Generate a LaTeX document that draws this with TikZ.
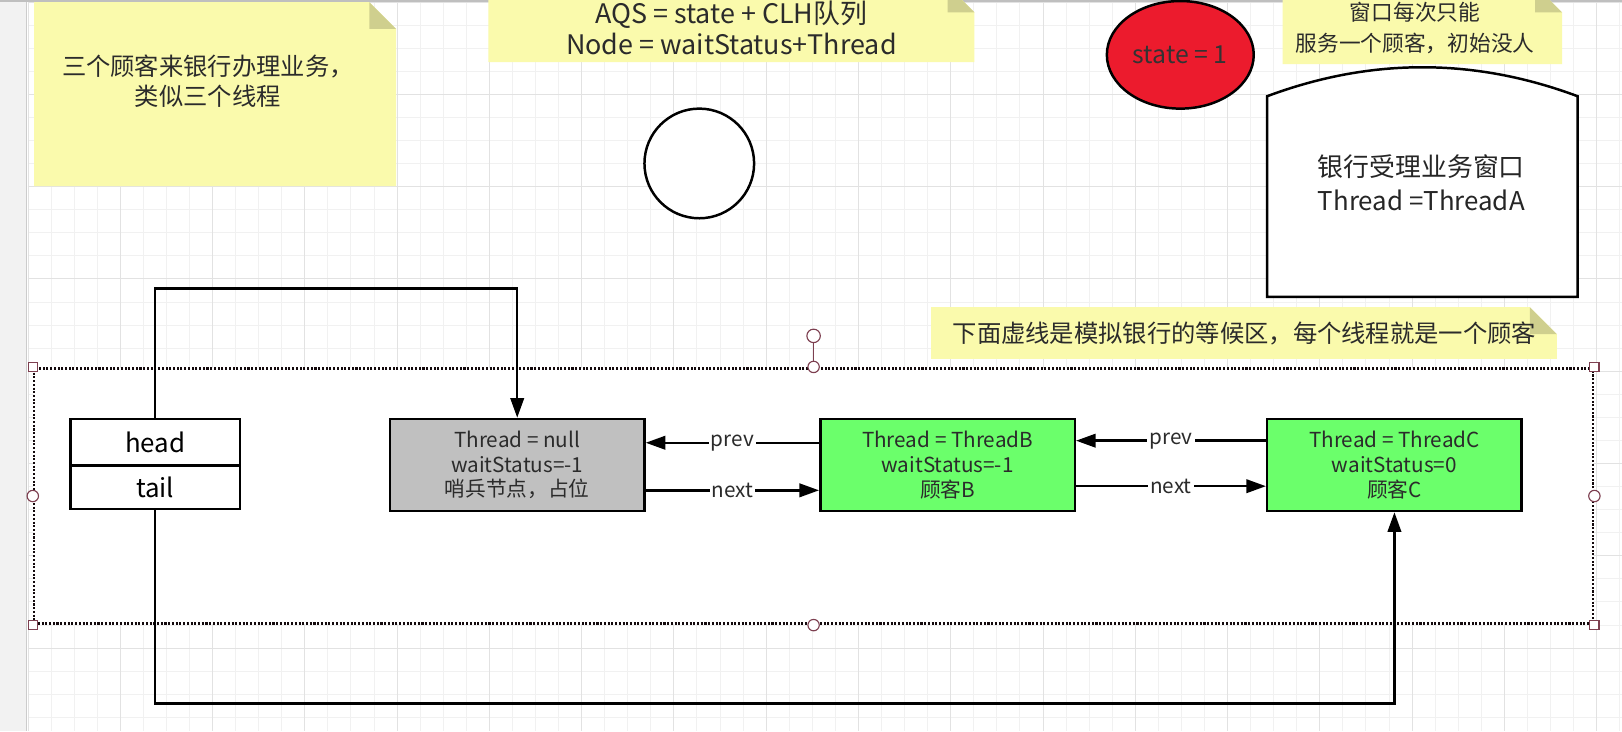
\documentclass[tikz,border=0pt]{standalone}
\usepackage{fontspec}
\setmainfont{Noto Sans CJK SC}
\usepackage{tikz}
\usetikzlibrary{arrows.meta, positioning, calc, shapes.geometric}
\definecolor{notey}{HTML}{FAFAAC}
\definecolor{notefold}{HTML}{CFCF8E}
\definecolor{gridl}{HTML}{F1F1F1}
\definecolor{gridd}{HTML}{E2E2E2}
\definecolor{nodegray}{HTML}{C0C0C0}
\definecolor{nodegreen}{HTML}{6BFF6B}
\definecolor{statered}{HTML}{EC1B2D}
\definecolor{hdl}{HTML}{7D3F50}
\definecolor{txt}{HTML}{2B2B2B}
\newcommand{\memo}[4]{%
  \fill[notey] (#1,#2) -- ({#3-26},#2) -- (#3,{#2+26}) -- (#3,#4) -- (#1,#4) -- cycle;
  \fill[notefold] ({#3-26},#2) -- ({#3-26},{#2+26}) -- (#3,{#2+26}) -- cycle;}

\begin{document}
\begin{tikzpicture}[x=1pt, y=-1pt, >=Stealth, line width=2.4pt,
      gridmin/.style={draw=gridl, line width=0.8pt},
      gridmaj/.style={draw=gridd, line width=0.8pt},
      memotxt/.style={align=center, text=txt, inner sep=0pt},
      zone/.style={draw=black!85!hdl, fill=white, dash pattern=on 2pt off 1.6pt,
                   line width=2.6pt, minimum width=1507, minimum height=247, inner sep=0pt},
      hsq/.style={draw=hdl, fill=white, line width=1.1pt},
      qnode/.style={draw=black, minimum width=246, minimum height=89, align=center,
                    font=\fontsize{20}{24}\selectfont, text=txt},
      ptr/.style={draw=black, fill=white, outer sep=0pt, minimum width=164,
                  font=\fontsize{25}{30}\selectfont},
      link/.style={-{Triangle[length=19pt,width=13pt]}, line width=2.4pt},
      lbl/.style={fill=white, inner sep=2pt, font=\fontsize{20}{24}\selectfont, text=txt}]
    \useasboundingbox (0,0) rectangle (1568,707);
    \clip (0,0) rectangle (1568,707);
    \fill[white] (0,0) rectangle (1568,707);
    \fill[black!5] (0,0) rectangle (26,707);
    \draw[black!20, line width=1pt] (26,0) -- (26,707);
    \foreach \i in {0,...,69}
      \draw[gridmin] ({27+22.3*\i},2) -- ({27+22.3*\i},707);
    \foreach \j in {0,...,31}
      \draw[gridmin] (27,{2+22.3*\j}) -- (1568,{2+22.3*\j});
    \foreach \i in {0,...,17}
      \draw[gridmaj] ({27+89.2*\i},2) -- ({27+89.2*\i},707);
    \foreach \j in {0,...,7}
      \draw[gridmaj] (27,{2+89.2*\j}) -- (1568,{2+89.2*\j});
    \draw[black!25, line width=1.5pt] (0,1) -- (1568,1);

    \memo{33}{2}{383}{180}
    \memo{472}{-14}{942}{60}
    \memo{1240}{-14}{1510}{62}
    \memo{900}{297}{1505}{347}
    \node[memotxt, font=\fontsize{23.5}{29}\selectfont] (memo1) at (201,78)
      {三个顾客来银行办理业务，\\类似三个线程};
    \node[memotxt, font=\fontsize{26}{30}\selectfont] (memo2) at (707,27)
      {AQS = state + CLH队列\\Node = waitStatus+Thread};
    \node[memotxt, font=\fontsize{21}{30}\selectfont] (memo3) at (1368,27)
      {窗口每次只能\\服务一个顾客，初始没人};
    \node[memotxt, font=\fontsize{23.5}{28}\selectfont] (memo4) at (1203,322)
      {下面虚线是模拟银行的等候区，每个线程就是一个顾客};

    \node[circle, draw=black, fill=white, minimum size=106] (emptyc) at (676,158) {};
    \node[ellipse, draw=black, fill=statered, minimum width=142, minimum height=104,
          font=\fontsize{24}{28}\selectfont, text=black!80] (state) at (1141,53) {state = 1};
    \draw[fill=white] (1225,287) -- (1225,93) .. controls (1325,55.7) and (1425,55.7) ..
      (1525,93) -- (1525,287) -- cycle;
    \node[memotxt, text=black!85, font=\fontsize{25}{33}\selectfont] (window) at (1374,177)
      {银行受理业务窗口\\Thread =ThreadA};

    \node[zone] (waitzone) at (786.5,479.5) {};
    \coordinate (rot) at ([yshift=30pt]waitzone.north);
    \draw[hdl, line width=1.1pt] (waitzone.north) -- (rot);
    \foreach \a in {north west, north east, south west, south east}
      \draw[hsq] (waitzone.\a) ++(-4.5,-4.5) rectangle ++(9,9);
    \foreach \a in {north, south, west, east}
      \draw[hsq] (waitzone.\a) circle (5.5);
    \draw[hsq] (rot) circle (6.5);

    \node[ptr, minimum height=45] (head) at (150,427.5) {head};
    \node[ptr, minimum height=42, below=0pt of head] (tail) {tail};
    \node[qnode, fill=nodegray] (sentinel) at (500,449.5)
      {Thread = null\\waitStatus=-1\\哨兵节点，占位};
    \node[qnode, fill=nodegreen] (custB) at (916,449.5)
      {Thread = ThreadB\\waitStatus=-1\\顾客B};
    \node[qnode, fill=nodegreen] (custC) at (1348,449.5)
      {Thread = ThreadC\\waitStatus=0\\顾客C};

    \draw[link] ([yshift=21.5pt]custB.west) -- node[lbl] {prev} ([yshift=21.5pt]sentinel.east);
    \draw[link] ([yshift=-24.5pt]sentinel.east) -- node[lbl] {next} ([yshift=-24.5pt]custB.west);
    \draw[link] ([yshift=23.5pt]custC.west) -- node[lbl] {prev} ([yshift=23.5pt]custB.east);
    \draw[link] ([yshift=-20.5pt]custB.east) -- node[lbl] {next} ([yshift=-20.5pt]custC.west);

    \coordinate (headup) at (150,279);
    \coordinate (taildown) at (150,680);
    \draw[link] (head.north) -- (headup) -| (sentinel.north);
    \draw[link] (tail.south) -- (taildown) -| (custC.south);
  \end{tikzpicture}
\end{document}
